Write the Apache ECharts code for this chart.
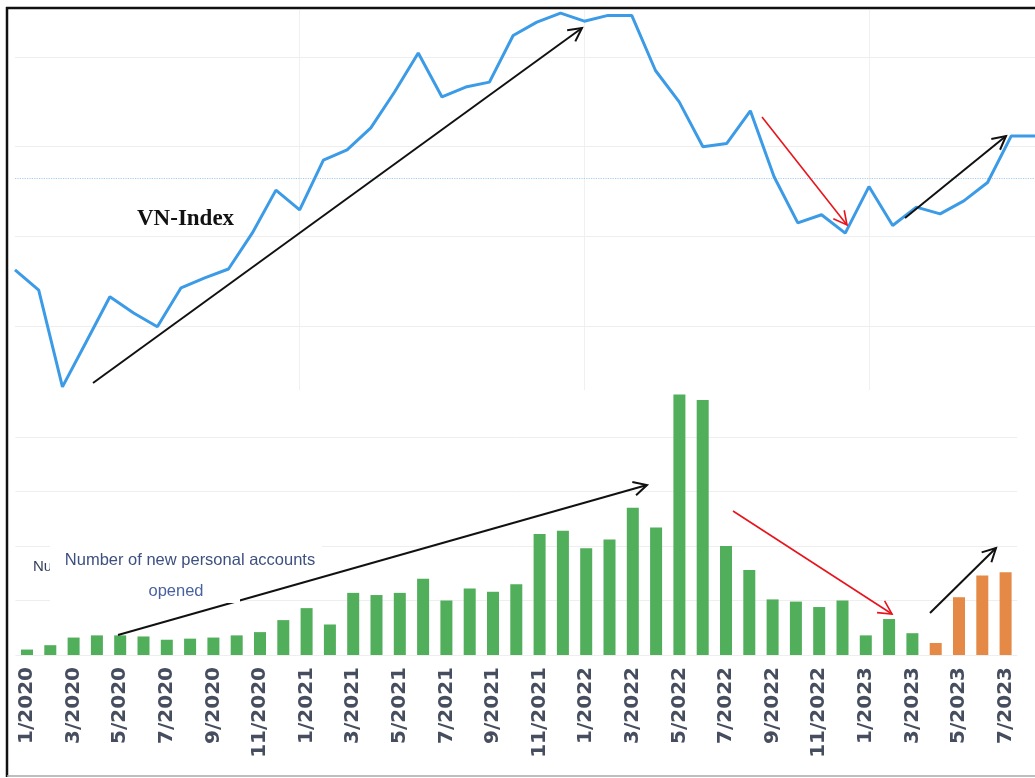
<!DOCTYPE html>
<html><head><meta charset="utf-8">
<script src="https://cdn.jsdelivr.net/npm/echarts@6/dist/echarts.min.js"></script>
<style>html,body{margin:0;padding:0;background:#fff}#c{width:1035px;height:778px}</style>
</head><body><div id="c"></div>
<script>
// ---- data ----
const barMonths = ['1/2020','2/2020','3/2020','4/2020','5/2020','6/2020','7/2020','8/2020','9/2020','10/2020','11/2020','12/2020',
  '1/2021','2/2021','3/2021','4/2021','5/2021','6/2021','7/2021','8/2021','9/2021','10/2021','11/2021','12/2021',
  '1/2022','2/2022','3/2022','4/2022','5/2022','6/2022','7/2022','8/2022','9/2022','10/2022','11/2022','12/2022',
  '1/2023','2/2023','3/2023','4/2023','5/2023','6/2023','7/2023'];
const lineMonths = barMonths.concat(['8/2023']);
// VN-Index (monthly)
const vnIndex = [925, 880, 664, 764, 865, 829, 798, 885, 907, 927, 1007, 1103,
  1059, 1170, 1193, 1242, 1322, 1409, 1311, 1333, 1344, 1448, 1478, 1498,
  1480, 1493, 1493, 1370, 1300, 1200, 1207, 1280, 1133, 1030, 1048, 1007,
  1111, 1024, 1065, 1050, 1079, 1120, 1224, 1224];
const vnGridValues = [800, 1000, 1200, 1400];
const vnRefLevel = 1130;
// new personal accounts opened (thousand)
const accountsGreen = [5, 9, 16, 18, 18, 17, 14, 15, 16, 18, 21, 32,
  43, 28, 57, 55, 57, 70, 50, 61, 58, 65, 111, 114,
  98, 106, 135, 117, 239, 234, 100, 78, 51, 49, 44, 50,
  18, 33, 20];
const accountsOrange = [11, 53, 73, 76];

const greenData = barMonths.map((m, i) => i < accountsGreen.length ? accountsGreen[i] : null);
const orangeData = barMonths.map((m, i) => i >= accountsGreen.length ? accountsOrange[i - accountsGreen.length] : null);

function arrow(x1, y1, x2, y2, color, w) {
  const ang = Math.atan2(y2 - y1, x2 - x1);
  const L = 15, a = 0.48;
  const p1 = [x2 - L * Math.cos(ang - a), y2 - L * Math.sin(ang - a)];
  const p2 = [x2 - L * Math.cos(ang + a), y2 - L * Math.sin(ang + a)];
  return [
    {type: 'line', z: 100, shape: {x1, y1, x2, y2}, style: {stroke: color, lineWidth: w}},
    {type: 'polyline', z: 100, shape: {points: [p1, [x2, y2], p2]}, style: {stroke: color, lineWidth: w, fill: null}}
  ];
}

const graphics = [].concat(
  arrow(93, 383, 582, 28, '#111', 2),
  arrow(762, 117, 847, 225, '#e8141c', 1.6),
  arrow(905, 218, 1006, 136, '#111', 2),
  arrow(118, 635, 647, 485, '#111', 2),
  arrow(733, 511, 892, 614, '#e8141c', 1.6),
  arrow(930, 613, 996, 548, '#111', 2),
  [
    {type: 'text', z: 100, style: {x: 33, y: 567, text: 'Nu', font: '15px "Liberation Sans", Arial, sans-serif', fill: '#34405a', textVerticalAlign: 'middle'}},
    {type: 'rect', z: 110, shape: {x: 50, y: 537, width: 272, height: 39}, style: {fill: '#ffffff'}},
    {type: 'rect', z: 110, shape: {x: 50, y: 575, width: 190, height: 28}, style: {fill: '#ffffff'}},
    {type: 'text', z: 120, style: {x: 190, y: 560, text: 'Number of new personal accounts', font: '16.5px "Liberation Sans", Arial, sans-serif', fill: '#3d5080', textAlign: 'center', textVerticalAlign: 'middle'}},
    {type: 'text', z: 120, style: {x: 176, y: 591, text: 'opened', font: '16.5px "Liberation Sans", Arial, sans-serif', fill: '#4862a0', textAlign: 'center', textVerticalAlign: 'middle'}},
    {type: 'text', z: 120, style: {x: 137, y: 219, text: 'VN-Index', font: 'bold 23px "Liberation Serif", "Times New Roman", serif', fill: '#111', textVerticalAlign: 'middle'}},
    {type: 'line', z: 200, shape: {x1: 7, y1: 7, x2: 7, y2: 777}, style: {stroke: '#111', lineWidth: 2.5}},
    {type: 'line', z: 200, shape: {x1: 6, y1: 8, x2: 1035, y2: 8}, style: {stroke: '#111', lineWidth: 2.5}},
    {type: 'line', z: 200, shape: {x1: 7, y1: 776, x2: 1035, y2: 776}, style: {stroke: '#a8a8a8', lineWidth: 1.5}}
  ]
);

const chart = echarts.init(document.getElementById('c'), null, {renderer: 'canvas'});
chart.setOption({
  animation: false,
  backgroundColor: '#ffffff',
  grid: [
    {left: 15, top: 10, width: 1021, height: 380},
    {left: 15.35, top: 382.5, width: 1001.9, height: 272.5}
  ],
  xAxis: [
    {gridIndex: 0, type: 'category', data: lineMonths, boundaryGap: false,
      axisLine: {show: false}, axisTick: {show: false}, axisLabel: {show: false},
      splitLine: {show: true, interval: (i) => i % 12 === 0 && i > 0, lineStyle: {color: '#f0f0f0', width: 1}}},
    {gridIndex: 1, type: 'category', data: barMonths, boundaryGap: true,
      axisLine: {show: false}, axisTick: {show: false},
      axisLabel: {interval: 1, rotate: 90, margin: 12, color: '#454d5e', fontFamily: 'DejaVu Sans', fontWeight: 'bold', fontSize: 20},
      splitLine: {show: false}}
  ],
  yAxis: [
    {gridIndex: 0, type: 'value', min: 657, max: 1505, axisLine: {show: false}, axisTick: {show: false}, axisLabel: {show: false}, splitLine: {show: false}},
    {gridIndex: 1, type: 'value', min: 0, max: 250, interval: 50, axisLine: {show: false}, axisTick: {show: false}, axisLabel: {show: false},
      splitLine: {show: true, showMaxLine: false, lineStyle: {color: '#eeeeee', width: 1}}}
  ],
  series: [
    {type: 'line', xAxisIndex: 0, yAxisIndex: 0, data: vnIndex, symbol: 'none', smooth: false,
      lineStyle: {color: '#3c9be6', width: 3}, itemStyle: {color: '#3c9be6'}, z: 5,
      markLine: {silent: true, symbol: ['none', 'none'], label: {show: false},
        lineStyle: {color: '#eeeeee', width: 1, type: 'solid'},
        data: vnGridValues.map(v => ({yAxis: v})).concat([{yAxis: vnRefLevel, lineStyle: {color: '#a9cdef', type: 'dotted', width: 1.2}}])}},
    {type: 'bar', xAxisIndex: 1, yAxisIndex: 1, data: greenData, barWidth: 12, itemStyle: {color: '#51ae5b'}},
    {type: 'bar', xAxisIndex: 1, yAxisIndex: 1, data: orangeData, barWidth: 12, barGap: '-100%', itemStyle: {color: '#e48946'}}
  ],
  graphic: {elements: graphics}
});
</script></body></html>
